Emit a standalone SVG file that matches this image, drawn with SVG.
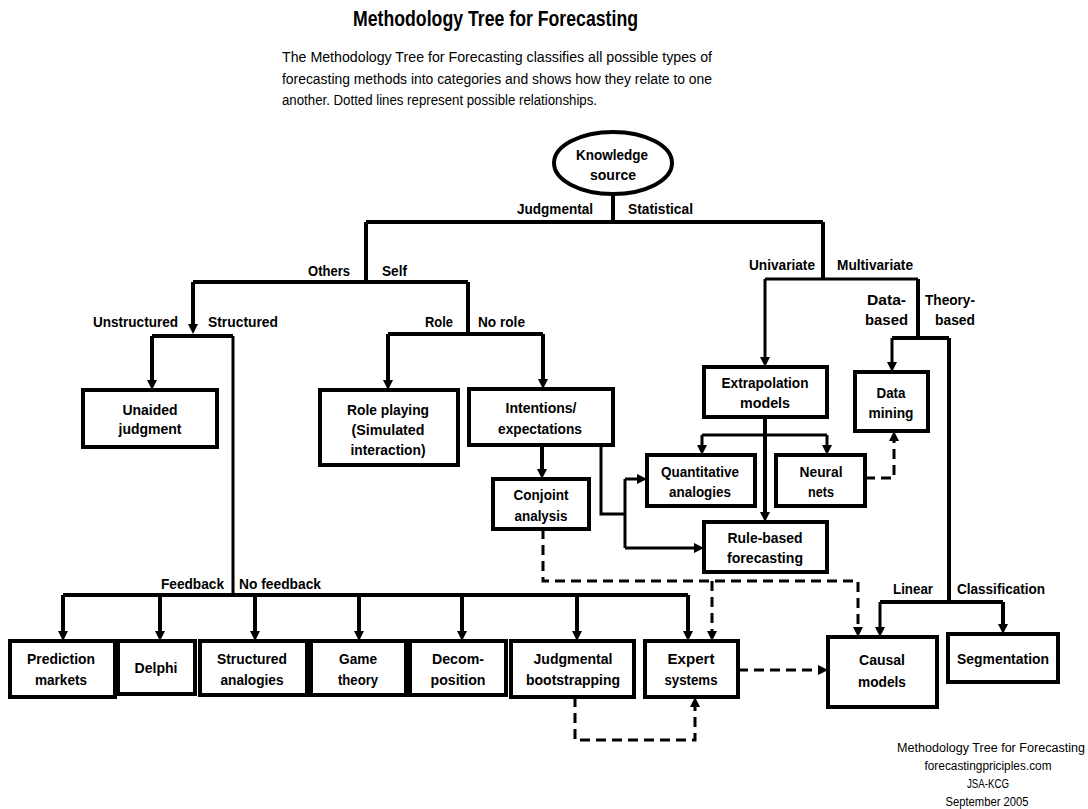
<svg xmlns="http://www.w3.org/2000/svg" width="1088" height="809" viewBox="0 0 1088 809">
<style>
text{font-family:"Liberation Sans",Arial,sans-serif;fill:#000}
.b{font-weight:bold;font-size:15px}
.m{text-anchor:middle}
.e{text-anchor:end}
.node rect,.node ellipse{fill:#fff;stroke:#000;stroke-width:4}
.c path{fill:none;stroke:#000;stroke-width:4}
.c path.t{stroke-width:3}
.c path.d{stroke-width:3;stroke-dasharray:10 6}
</style>
<defs>
<marker id="a" viewBox="0 0 10 10" refX="5" refY="5" markerWidth="10" markerHeight="10" markerUnits="userSpaceOnUse" orient="auto">
<path d="M0,0 L10,5 L0,10 Z" fill="#000"/>
</marker>
</defs>
<rect width="1088" height="809" fill="#fff"/>
<g id="title">
<text x="353" y="26" font-size="22" font-weight="bold" textLength="285" lengthAdjust="spacingAndGlyphs">Methodology Tree for Forecasting</text>
<text x="282" y="62" font-size="14" textLength="430" lengthAdjust="spacingAndGlyphs">The Methodology Tree for Forecasting classifies all possible types of</text>
<text x="282" y="84" font-size="14" textLength="430" lengthAdjust="spacingAndGlyphs">forecasting methods into categories and shows how they relate to one</text>
<text x="282" y="105" font-size="14" textLength="315" lengthAdjust="spacingAndGlyphs">another. Dotted lines represent possible relationships.</text>
</g>
<g class="c" id="connectors">
<path d="M613,194 V222 M366,222 H823 M366,222 V282 M193,282 H468"/>
<path d="M193,282 V329" marker-end="url(#a)"/>
<path d="M152,336 H233"/>
<path d="M152,336 V385" marker-end="url(#a)"/>
<path class="t" d="M233,336 V595"/>
<path d="M63,595 H688"/>
<path d="M63,595 V636" marker-end="url(#a)"/>
<path d="M160,595 V636" marker-end="url(#a)"/>
<path d="M255,595 V636" marker-end="url(#a)"/>
<path d="M359,595 V636" marker-end="url(#a)"/>
<path d="M462,595 V636" marker-end="url(#a)"/>
<path d="M577,595 V636" marker-end="url(#a)"/>
<path d="M688,595 V636" marker-end="url(#a)"/>
<path d="M468,282 V334 M388,334 H543"/>
<path d="M388,334 V385" marker-end="url(#a)"/>
<path d="M543,334 V384" marker-end="url(#a)"/>
<path d="M542,445 V474" marker-end="url(#a)"/>
<path class="t" d="M601,445 V514 H625 M625,479 V548"/>
<path class="t" d="M625,479 H642" marker-end="url(#a)"/>
<path class="t" d="M625,548 H699" marker-end="url(#a)"/>
<path d="M823,222 V279"/>
<path class="t" d="M765,279 H918"/>
<path class="t" d="M765,279 V362" marker-end="url(#a)"/>
<path d="M918,279 V338 M892,338 H949"/>
<path class="t" d="M892,338 V367" marker-end="url(#a)"/>
<path d="M949,338 V602 M880,602 H1003"/>
<path class="t" d="M880,602 V632" marker-end="url(#a)"/>
<path d="M1003,602 V629" marker-end="url(#a)"/>
<path d="M765,417 V517" marker-end="url(#a)"/>
<path class="t" d="M702,435 H827"/>
<path class="t" d="M702,435 V450" marker-end="url(#a)"/>
<path class="t" d="M827,435 V450" marker-end="url(#a)"/>
<path class="d" d="M865,478 H894 V436" marker-end="url(#a)"/>
<path class="d" d="M543,529 V581 H858 V632" marker-end="url(#a)"/>
<path class="d" d="M712,581 V636" marker-end="url(#a)"/>
<path class="d" d="M575,697 V740 H695 V702" marker-end="url(#a)"/>
<path class="d" d="M738,670 H823" marker-end="url(#a)"/>
</g>
<g id="labels" class="b">
<text class="e" x="593" y="214" textLength="76" lengthAdjust="spacingAndGlyphs">Judgmental</text>
<text x="628" y="214" textLength="65" lengthAdjust="spacingAndGlyphs">Statistical</text>
<text class="e" x="350" y="276" textLength="42" lengthAdjust="spacingAndGlyphs">Others</text>
<text x="382" y="276" textLength="25" lengthAdjust="spacingAndGlyphs">Self</text>
<text class="e" x="178" y="327" textLength="85" lengthAdjust="spacingAndGlyphs">Unstructured</text>
<text x="208" y="327" textLength="70" lengthAdjust="spacingAndGlyphs">Structured</text>
<text class="e" x="453" y="327" textLength="28" lengthAdjust="spacingAndGlyphs">Role</text>
<text x="478" y="327" textLength="47" lengthAdjust="spacingAndGlyphs">No role</text>
<text class="e" x="815" y="270" textLength="66" lengthAdjust="spacingAndGlyphs">Univariate</text>
<text x="837" y="270" textLength="76" lengthAdjust="spacingAndGlyphs">Multivariate</text>
<text class="e" x="906" y="305" textLength="39" lengthAdjust="spacingAndGlyphs">Data-</text>
<text class="e" x="908" y="325" textLength="43" lengthAdjust="spacingAndGlyphs">based</text>
<text x="925" y="305" textLength="50" lengthAdjust="spacingAndGlyphs">Theory-</text>
<text x="935" y="325" textLength="40" lengthAdjust="spacingAndGlyphs">based</text>
<text class="e" x="933" y="594" textLength="40" lengthAdjust="spacingAndGlyphs">Linear</text>
<text x="957" y="594" textLength="88" lengthAdjust="spacingAndGlyphs">Classification</text>
<text class="e" x="224" y="589" textLength="63" lengthAdjust="spacingAndGlyphs">Feedback</text>
<text x="239" y="589" textLength="82" lengthAdjust="spacingAndGlyphs">No feedback</text>
</g>
<g id="knowledge" class="node b">
<ellipse cx="613" cy="163" rx="59" ry="31"/>
<text class="m" x="612" y="160" textLength="72" lengthAdjust="spacingAndGlyphs">Knowledge</text>
<text class="m" x="613" y="180" textLength="46" lengthAdjust="spacingAndGlyphs">source</text>
</g>
<g id="unaided" class="node b">
<rect x="83" y="390" width="134" height="57"/>
<text class="m" x="150" y="415" textLength="55" lengthAdjust="spacingAndGlyphs">Unaided</text>
<text class="m" x="150" y="434" textLength="63" lengthAdjust="spacingAndGlyphs">judgment</text>
</g>
<g id="roleplaying" class="node b">
<rect x="320" y="390" width="138" height="75"/>
<text class="m" x="388" y="415" textLength="82" lengthAdjust="spacingAndGlyphs">Role playing</text>
<text class="m" x="388" y="435" textLength="73" lengthAdjust="spacingAndGlyphs">(Simulated</text>
<text class="m" x="388" y="455" textLength="75" lengthAdjust="spacingAndGlyphs">interaction)</text>
</g>
<g id="intentions" class="node b">
<rect x="469" y="389" width="144" height="56"/>
<text class="m" x="541" y="413" textLength="71" lengthAdjust="spacingAndGlyphs">Intentions/</text>
<text class="m" x="540" y="434" textLength="84" lengthAdjust="spacingAndGlyphs">expectations</text>
</g>
<g id="conjoint" class="node b">
<rect x="493" y="479" width="96" height="50"/>
<text class="m" x="541" y="500" textLength="55" lengthAdjust="spacingAndGlyphs">Conjoint</text>
<text class="m" x="541" y="521" textLength="53" lengthAdjust="spacingAndGlyphs">analysis</text>
</g>
<g id="extrapolation" class="node b">
<rect x="704" y="367" width="123" height="50"/>
<text class="m" x="765" y="388" textLength="87" lengthAdjust="spacingAndGlyphs">Extrapolation</text>
<text class="m" x="765" y="408" textLength="50" lengthAdjust="spacingAndGlyphs">models</text>
</g>
<g id="quantitative" class="node b">
<rect x="647" y="455" width="108" height="51"/>
<text class="m" x="700" y="477" textLength="78" lengthAdjust="spacingAndGlyphs">Quantitative</text>
<text class="m" x="700" y="497" textLength="62" lengthAdjust="spacingAndGlyphs">analogies</text>
</g>
<g id="neural" class="node b">
<rect x="776" y="455" width="89" height="51"/>
<text class="m" x="821" y="477" textLength="43" lengthAdjust="spacingAndGlyphs">Neural</text>
<text class="m" x="821" y="497" textLength="26" lengthAdjust="spacingAndGlyphs">nets</text>
</g>
<g id="rulebased" class="node b">
<rect x="704" y="522" width="123" height="50"/>
<text class="m" x="765" y="543" textLength="75" lengthAdjust="spacingAndGlyphs">Rule-based</text>
<text class="m" x="765" y="563" textLength="76" lengthAdjust="spacingAndGlyphs">forecasting</text>
</g>
<g id="datamining" class="node b">
<rect x="855" y="372" width="73" height="59"/>
<text class="m" x="891" y="398" textLength="29" lengthAdjust="spacingAndGlyphs">Data</text>
<text class="m" x="891" y="418" textLength="45" lengthAdjust="spacingAndGlyphs">mining</text>
</g>
<g id="prediction" class="node b">
<rect x="10" y="641" width="105" height="56"/>
<text class="m" x="61" y="664" textLength="68" lengthAdjust="spacingAndGlyphs">Prediction</text>
<text class="m" x="61" y="685" textLength="52" lengthAdjust="spacingAndGlyphs">markets</text>
</g>
<g id="delphi" class="node b">
<rect x="118" y="641" width="77" height="53"/>
<text class="m" x="156" y="673" textLength="43" lengthAdjust="spacingAndGlyphs">Delphi</text>
</g>
<g id="structured" class="node b">
<rect x="200" y="641" width="107" height="54"/>
<text class="m" x="252" y="664" textLength="70" lengthAdjust="spacingAndGlyphs">Structured</text>
<text class="m" x="252" y="685" textLength="63" lengthAdjust="spacingAndGlyphs">analogies</text>
</g>
<g id="game" class="node b">
<rect x="311" y="641" width="95" height="54"/>
<text class="m" x="358" y="664" textLength="38" lengthAdjust="spacingAndGlyphs">Game</text>
<text class="m" x="358" y="685" textLength="40" lengthAdjust="spacingAndGlyphs">theory</text>
</g>
<g id="decomposition" class="node b">
<rect x="410" y="641" width="96" height="54"/>
<text class="m" x="458" y="664" textLength="52" lengthAdjust="spacingAndGlyphs">Decom-</text>
<text class="m" x="458" y="685" textLength="55" lengthAdjust="spacingAndGlyphs">position</text>
</g>
<g id="bootstrapping" class="node b">
<rect x="511" y="641" width="123" height="56"/>
<text class="m" x="573" y="664" textLength="79" lengthAdjust="spacingAndGlyphs">Judgmental</text>
<text class="m" x="573" y="685" textLength="94" lengthAdjust="spacingAndGlyphs">bootstrapping</text>
</g>
<g id="expert" class="node b">
<rect x="645" y="641" width="93" height="56"/>
<text class="m" x="691" y="664" textLength="47" lengthAdjust="spacingAndGlyphs">Expert</text>
<text class="m" x="691" y="685" textLength="53" lengthAdjust="spacingAndGlyphs">systems</text>
</g>
<g id="causal" class="node b">
<rect x="828" y="637" width="109" height="70"/>
<text class="m" x="882" y="665" textLength="46" lengthAdjust="spacingAndGlyphs">Causal</text>
<text class="m" x="882" y="687" textLength="48" lengthAdjust="spacingAndGlyphs">models</text>
</g>
<g id="segmentation" class="node b">
<rect x="948" y="634" width="110" height="48"/>
<text class="m" x="1003" y="664" textLength="92" lengthAdjust="spacingAndGlyphs">Segmentation</text>
</g>
<g id="credits" font-size="12">
<text class="m" x="991" y="752" textLength="188" lengthAdjust="spacingAndGlyphs">Methodology Tree for Forecasting</text>
<text class="m" x="988" y="770" textLength="127" lengthAdjust="spacingAndGlyphs">forecastingpriciples.com</text>
<text class="m" x="988" y="788" textLength="42" lengthAdjust="spacingAndGlyphs">JSA-KCG</text>
<text class="m" x="987" y="806" textLength="83" lengthAdjust="spacingAndGlyphs">September 2005</text>
</g>
</svg>
